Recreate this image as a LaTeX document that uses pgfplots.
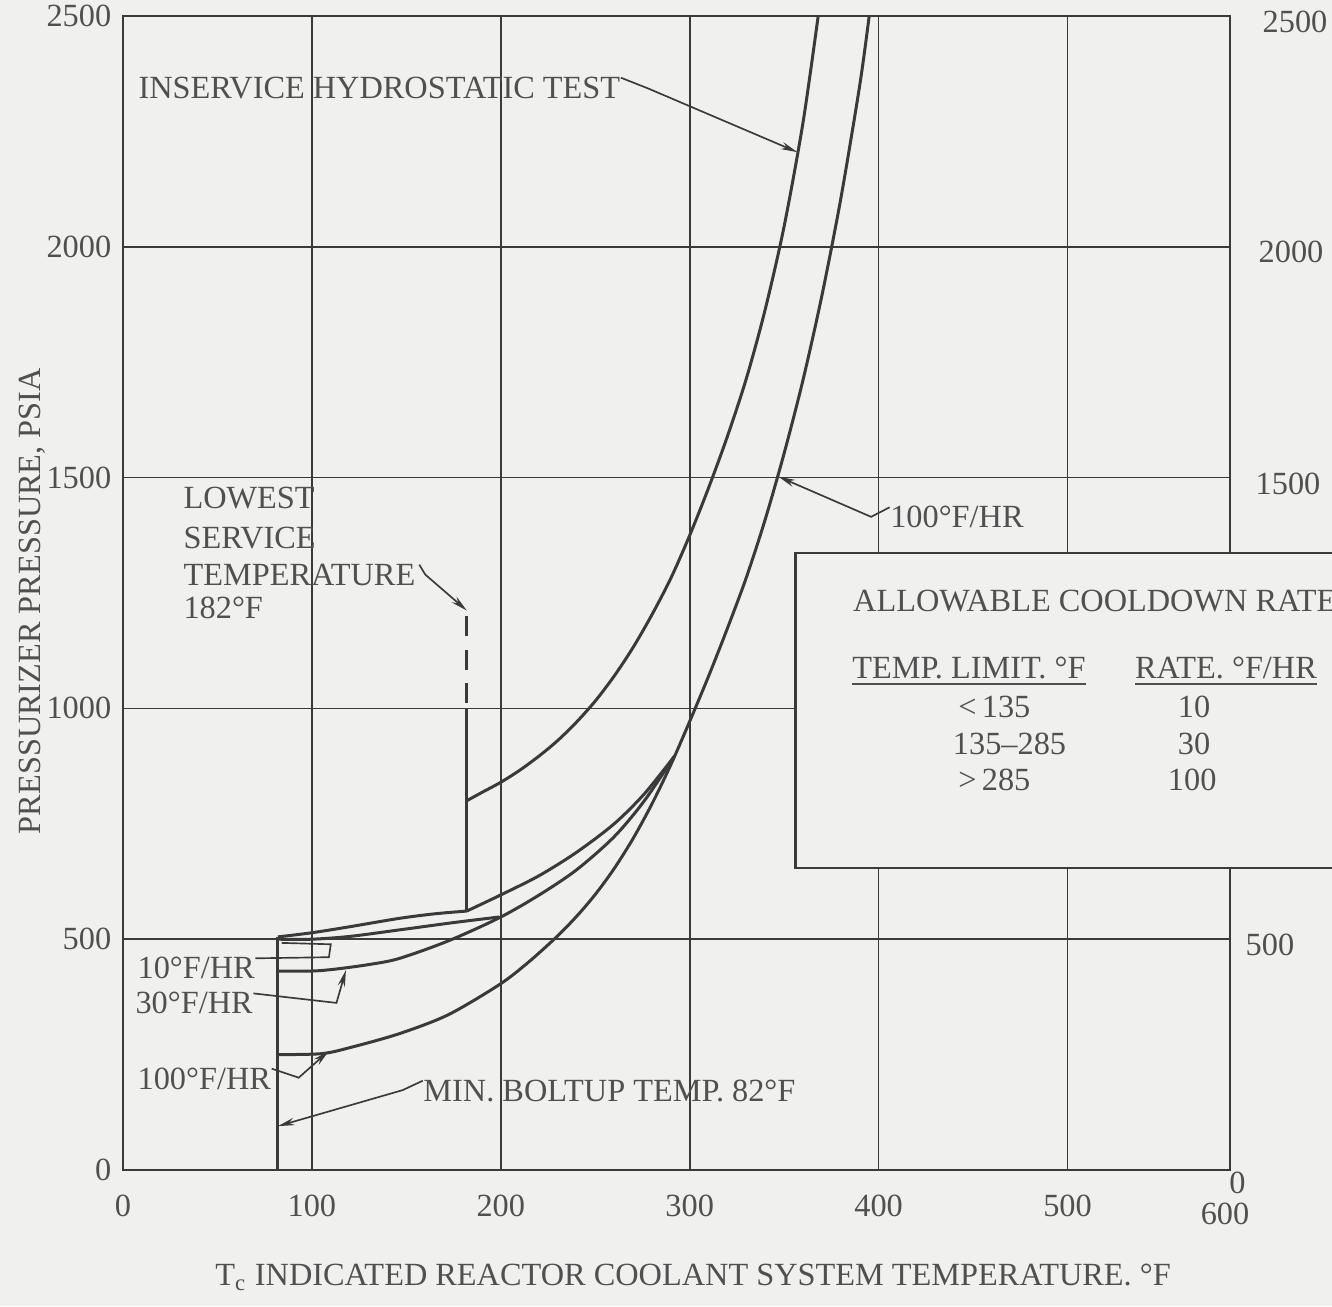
\documentclass[border=0pt]{standalone}
\usepackage{fontspec}
\setmainfont{Liberation Serif}
\usepackage{pgfplots}
\pgfplotsset{compat=1.18}
\usetikzlibrary{arrows.meta}
\definecolor{paper}{RGB}{240,240,239}
\definecolor{ink}{RGB}{58,58,58}
\definecolor{txt}{RGB}{80,80,80}

\begin{document}
\begin{tikzpicture}[font=\fontsize{9.7}{11.6}\selectfont,
  curve/.style={ink, line width=0.9pt, smooth, tension=0.5},
  lead/.style={ink, line width=0.5pt},
  leadarrow/.style={ink, line width=0.5pt, -{Stealth[length=5pt,width=2.2pt]}},
  lbl/.style={txt, inner sep=0pt}]
\fill[paper] (-36.9pt,-40.8pt) rectangle (362.7pt,351pt);
\begin{axis}[
  at={(0pt,0pt)}, anchor=south west,
  scale only axis, width=332.1pt, height=346.2pt,
  xmin=0, xmax=586, ymin=0, ymax=2500,
  xtick={0,100,...,500}, ytick={0,500,...,2500},
  extra x ticks={586}, extra x tick labels={600},
  extra x tick style={xticklabel style={xshift=-1.5pt, yshift=-2.5pt}},
  grid=major, major grid style={ink, line width=0.5pt},
  major tick length=0pt,
  axis line style={ink, line width=0.7pt},
  tick label style={txt},
  /pgf/number format/assume math mode=true,
  /pgf/number format/set thousands separator={},
  xticklabel style={yshift=-4pt},
  xlabel={T\textsubscript{c} INDICATED REACTOR COOLANT SYSTEM TEMPERATURE. °F},
  ylabel={PRESSURIZER PRESSURE, PSIA},
  label style={txt},
  xlabel style={at={(axis description cs:0.515,-0.0997)}, anchor=base},
  ylabel style={at={(axis description cs:-0.0741,0.493)}, anchor=base},
  clip=false,
]
% minimum boltup temperature
\addplot[ink, line width=0.9pt] coordinates {(82,0) (82,505)};

% heatup limit up to the lowest service temperature step
\addplot[curve] coordinates {(82,505) (100,514) (120,527) (146,545) (165,555) (182,561)};
\addplot[curve] coordinates {(182,561) (199,594) (220,637) (240,688) (260,750) (276,815) (292,897)};
\addplot[ink, line width=0.9pt] coordinates {(182,561) (182,1000)};
\addplot[ink, line width=0.9pt, dash pattern=on 6pt off 4pt] coordinates {(182,1012) (182,1205)};

% inservice hydrostatic test
\addplot[curve] coordinates {(182,800) (190,818) (200,840) (210,866) (220,896) (230,930)
  (240,970) (250,1016) (260,1070) (270,1132) (280,1203) (290,1282) (300,1375)
  (310,1478) (320,1590) (330,1715) (340,1865) (350,2045) (360,2270) (368,2500)};

% 10 F/HR cooldown
\addplot[curve] coordinates {(82,500) (100,500) (120,506) (146,520) (175,536) (199,548)};

% 30 F/HR cooldown
\addplot[curve] coordinates {(82,431) (100,431) (112,435) (130,445) (146,458) (172,496)
  (199,546) (220,595) (240,650) (260,722) (276,800) (292,897)};

% 100 F/HR cooldown
\addplot[curve] coordinates {(82,250) (105,252) (120,265) (146,295) (172,336) (199,401)
  (214,448) (229,503) (240,549) (250,597) (260,653) (270,718) (280,793) (290,878) (300,972)
  (310,1070) (320,1174) (330,1284) (340,1410) (350,1553) (360,1712) (370,1895)
  (380,2105) (390,2350) (395,2500)};

% labels and leaders
\node[lbl, anchor=base west] (hyd) at (axis cs:7.9,2322) {INSERVICE HYDROSTATIC TEST};
\draw[leadarrow] (hyd.east) ++(0,3pt) -- (axis cs:278,2343) -- (axis cs:357,2205);

\node[lbl, anchor=base west] at (axis cs:31.7,1434) {LOWEST};
\node[lbl, anchor=base west] at (axis cs:31.7,1347) {SERVICE};
\node[lbl, anchor=base west] (lst) at (axis cs:31.7,1267) {TEMPERATURE};
\node[lbl, anchor=base west] at (axis cs:31.7,1194) {182°F};
\draw[leadarrow] (lst.east) ++(1pt,3pt) -- (axis cs:160,1290) -- (axis cs:182,1212);

\node[lbl, anchor=base west] (hup) at (axis cs:405.8,1391) {100°F/HR};
\draw[leadarrow] (hup.west) ++(0,3pt) -- (axis cs:396,1415) -- (axis cs:347,1502);

\node[lbl, anchor=base west] (c10) at (axis cs:7.4,414) {10°F/HR};
\draw[lead] (c10.east) ++(0,3pt) -- (axis cs:109,461) -- (axis cs:110,489) -- (axis cs:84,492);

\node[lbl, anchor=base west] (c30) at (axis cs:6.3,338) {30°F/HR};
\draw[leadarrow] (c30.east) ++(0,3pt) -- (axis cs:113,362) -- (axis cs:118,433);

\node[lbl, anchor=base west] (c100) at (axis cs:7.4,175) {100°F/HR};
\draw[leadarrow] (c100.east) ++(0,3pt) -- (axis cs:93,200) -- (axis cs:109,258);

\node[lbl, anchor=base west] (bolt) at (axis cs:158.7,149) {MIN. BOLTUP TEMP. 82°F};
\draw[leadarrow] (bolt.west) ++(0,3pt) -- (axis cs:148,173) -- (axis cs:82,95);

% right-hand pressure scale
\node[lbl, anchor=west, xshift=9.6pt] at (axis cs:586,2487) {2500};
\node[lbl, anchor=west, xshift=8.4pt] at (axis cs:586,1989) {2000};
\node[lbl, anchor=west, xshift=7.5pt] at (axis cs:586,1486) {1500};
\node[lbl, anchor=west, xshift=4.5pt] at (axis cs:586,487) {500};
\node[lbl] at (axis cs:590,-28) {0};

% cooldown rate table
\draw[ink, line width=0.7pt, fill=paper] (axis cs:356,654) rectangle (axis cs:720,1337);
\node[lbl, anchor=base west] at (axis cs:386.2,1211) {ALLOWABLE COOLDOWN RATE};
\node[lbl, anchor=base west] at (axis cs:385.7,1064) {\underline{TEMP. LIMIT. °F}};
\node[lbl, anchor=base west] at (axis cs:535.4,1064) {\underline{RATE. °F/HR}};
\node[lbl, anchor=base west] at (axis cs:441.8,981) {<\,135};
\node[lbl, anchor=base west] at (axis cs:439,901) {135--285};
\node[lbl, anchor=base west] at (axis cs:441.8,823) {>\,285};
\node[lbl, anchor=base] at (axis cs:567,981) {10};
\node[lbl, anchor=base] at (axis cs:567,901) {30};
\node[lbl, anchor=base] at (axis cs:566,823) {100};
\end{axis}
\pgfresetboundingbox
\useasboundingbox (-36.9pt,-40.8pt) rectangle (362.7pt,351pt);
\end{tikzpicture}
\end{document}
